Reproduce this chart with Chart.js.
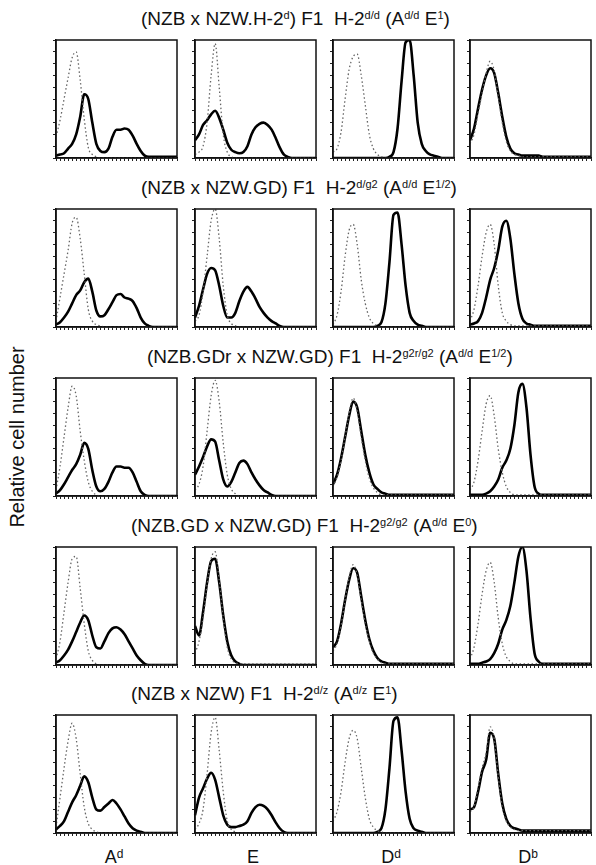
<!DOCTYPE html>
<html lang="en">
<head>
  <meta charset="UTF-8" />
  <title>Relative cell number - H-2 F1 mice</title>
  <style>
    body {
      margin: 0;
      background: #fff;
      font-family: "Liberation Sans", Arial, sans-serif;
      color: #111;
    }
    #fig {
      position: relative;
      width: 596px;
      height: 865px;
      overflow: hidden;
    }
    .row-title {
      position: absolute;
      font-size: 19px;
      white-space: pre;
      line-height: 1;
    }
    .row-title sup {
      font-size: 11px;
      vertical-align: 6px;
    }
    .xlab sup {
      font-size: 12px;
      vertical-align: 5px;
    }
    .panel {
      position: absolute;
    }
    .xlab {
      position: absolute;
      font-size: 18px;
      transform: translateX(-50%);
      line-height: 1;
    }
    #ylab {
      position: absolute;
      left: 17px;
      top: 437px;
      font-size: 20px;
      white-space: nowrap;
      transform: translate(-50%, -50%) rotate(-90deg);
    }
  </style>
</head>
<body>
  <div id="fig">
    <div id="ylab">Relative cell number</div>
  </div>

  <script src="https://cdn.jsdelivr.net/npm/chart.js"></script>
  <script>
    // fluorescence channels (log scale, no labels shown)
    const channels = ['0','1','2','3','4','5','6','7','8','9','10','11','12','13','14','15',
                      '16','17','18','19','20','21','22','23','24','25','26','27','28','29','30'];

    const rowTitles = [
      '(NZB x NZW.H-2<sup>d</sup>) F1  H-2<sup>d/d</sup> (A<sup>d/d</sup> E<sup>1</sup>)',
      '(NZB x NZW.GD) F1  H-2<sup>d/g2</sup> (A<sup>d/d</sup> E<sup>1/2</sup>)',
      '(NZB.GDr x NZW.GD) F1  H-2<sup>g2r/g2</sup> (A<sup>d/d</sup> E<sup>1/2</sup>)',
      '(NZB.GD x NZW.GD) F1  H-2<sup>g2/g2</sup> (A<sup>d/d</sup> E<sup>0</sup>)',
      '(NZB x NZW) F1  H-2<sup>d/z</sup> (A<sup>d/z</sup> E<sup>1</sup>)'
    ];
    const colLabels = ['A<sup>d</sup>', 'E', 'D<sup>d</sup>', 'D<sup>b</sup>'];

    // % of max, dotted = control, solid = stained
    // row 1
    const adCtrl1  = [18,32,50,68,85,90,66,33,9,3,1,0,0,0,0,0,0,0,0,0,0,0,0,0,0,0,0,0,0,0,0];
    const adStain1 = [2,3,4,8,12,20,35,54,50,30,12,6,5,8,18,24,24,25,24,19,12,6,2,1,1,1,1,1,1,1,1];
    const eCtrl1   = [3,5,10,30,70,97,60,20,5,1,0,0,0,0,0,0,0,0,0,0,0,0,0,0,0,0,0,0,0,0,0];
    const eStain1  = [15,20,28,32,37,40,34,24,13,7,5,4,5,10,20,26,29,30,28,24,17,9,3,1,0,0,0,0,0,0,0];
    const ddCtrl1  = [5,8,22,50,75,86,88,70,45,20,8,3,1,0,0,0,0,0,0,0,0,0,0,0,0,0,0,0,0,0,0];
    const ddStain1 = [0,0,0,0,0,0,0,0,0,0,0,0,0,0,1,5,25,65,98,100,70,30,12,6,3,2,1,0,0,0,0];
    const dbCtrl1  = [12,20,38,55,72,82,74,52,30,14,6,3,2,1,1,1,1,1,1,1,1,1,1,1,1,1,1,1,1,1,1];
    const dbStain1 = [15,25,42,58,70,76,72,55,35,18,8,4,3,2,2,2,2,2,1,1,1,1,1,1,1,1,1,1,1,1,1];
    // row 2
    const adCtrl2  = [5,25,45,65,88,93,75,45,15,5,2,1,0,0,0,0,0,0,0,0,0,0,0,0,0,0,0,0,0,0,0];
    const adStain2 = [2,4,8,13,20,27,31,38,41,30,14,9,10,15,21,27,28,25,24,22,16,8,3,1,0,0,0,0,0,0,0];
    const eCtrl2   = [5,10,30,60,90,100,75,35,10,3,1,0,0,0,0,0,0,0,0,0,0,0,0,0,0,0,0,0,0,0,0];
    const eStain2  = [8,18,32,45,50,48,35,18,8,8,12,22,30,34,30,24,17,12,8,5,3,1,0,0,0,0,0,0,0,0,0];
    const ddCtrl2  = [2,10,30,60,82,87,70,40,20,8,3,1,0,0,0,0,0,0,0,0,0,0,0,0,0,0,0,0,0,0,0];
    const ddStain2 = [0,0,0,0,0,0,0,0,0,0,0,1,4,20,55,95,97,70,35,12,5,2,1,0,0,0,0,0,0,0,0];
    const dbCtrl2  = [5,15,35,60,80,87,70,35,12,5,2,1,1,1,1,1,1,1,1,1,1,1,1,1,1,1,1,1,1,1,1];
    const dbStain2 = [2,3,5,12,25,40,50,65,85,90,75,45,20,7,3,2,1,1,1,1,1,1,1,1,1,1,1,1,1,1,1];
    // row 3
    const adCtrl3  = [5,25,50,75,93,85,55,30,12,4,1,0,0,0,0,0,0,0,0,0,0,0,0,0,0,0,0,0,0,0,0];
    const adStain3 = [2,5,10,16,22,27,35,45,40,22,8,4,6,12,20,25,25,24,24,20,12,4,1,0,0,0,0,0,0,0,0];
    const eCtrl3   = [5,10,25,55,85,98,80,45,18,6,2,0,0,0,0,0,0,0,0,0,0,0,0,0,0,0,0,0,0,0,0];
    const eStain3  = [18,25,33,42,48,46,30,14,8,12,20,28,30,27,20,14,9,5,3,1,0,0,0,0,0,0,0,0,0,0,0];
    const ddCtrl3  = [8,16,30,50,70,83,72,50,30,15,7,3,1,1,1,1,1,1,1,1,1,1,1,1,1,1,1,1,1,1,1];
    const ddStain3 = [10,18,32,50,68,80,75,55,35,20,10,6,3,2,1,1,1,1,1,1,1,1,1,1,1,1,1,1,1,1,1];
    const dbCtrl3  = [5,12,30,55,78,85,68,40,20,8,3,1,1,1,1,1,1,1,1,1,1,1,1,1,1,1,1,1,1,1,1];
    const dbStain3 = [1,1,1,1,2,4,8,14,24,30,40,60,88,95,75,35,8,2,1,1,1,1,1,1,1,1,1,1,1,1,1];
    // row 4
    const adCtrl4  = [5,20,45,70,90,92,65,35,12,4,1,0,0,0,0,0,0,0,0,0,0,0,0,0,0,0,0,0,0,0,0];
    const adStain4 = [2,4,8,13,20,28,36,42,38,25,15,14,20,27,31,32,30,26,20,14,8,4,1,0,0,0,0,0,0,0,0];
    const eCtrl4   = [10,20,40,68,90,96,72,40,15,5,2,1,1,1,1,1,1,1,1,1,1,1,1,1,1,1,1,1,1,1,1];
    const eStain4  = [33,25,45,70,88,90,70,42,20,8,3,1,0,0,0,0,0,0,0,0,0,0,0,0,0,0,0,0,0,0,0];
    const ddCtrl4  = [12,18,33,55,74,85,76,55,35,20,10,5,2,1,1,1,1,1,1,1,1,1,1,1,1,1,1,1,1,1,1];
    const ddStain4 = [15,20,35,55,72,82,78,58,38,22,12,6,3,2,1,1,1,1,1,1,1,1,1,1,1,1,1,1,1,1,1];
    const dbCtrl4  = [5,15,35,60,80,87,70,40,18,7,3,1,1,1,1,1,1,1,1,1,1,1,1,1,1,1,1,1,1,1,1];
    const dbStain4 = [1,1,1,2,3,5,10,18,30,38,50,70,92,100,80,40,10,3,1,1,1,1,1,1,1,1,1,1,1,1,1];
    // row 5
    const adCtrl5  = [5,30,55,78,93,80,50,22,8,3,1,0,0,0,0,0,0,0,0,0,0,0,0,0,0,0,0,0,0,0,0];
    const adStain5 = [3,6,10,18,26,32,40,48,43,30,20,19,22,25,28,25,20,14,8,4,2,1,0,0,0,0,0,0,0,0,0];
    const eCtrl5   = [3,8,20,50,85,98,70,35,10,3,1,0,0,0,0,0,0,0,0,0,0,0,0,0,0,0,0,0,0,0,0];
    const eStain5  = [15,30,38,46,51,45,30,15,7,5,5,6,7,10,17,22,24,23,20,15,9,4,1,0,0,0,0,0,0,0,0];
    const ddCtrl5  = [10,18,35,60,80,87,80,55,30,12,5,2,1,0,0,0,0,0,0,0,0,0,0,0,0,0,0,0,0,0,0];
    const ddStain5 = [0,0,0,0,0,0,0,0,0,0,0,1,4,20,55,95,98,70,35,12,4,2,1,0,0,0,0,0,0,0,0];
    const dbCtrl5  = [18,22,38,55,68,90,80,48,22,10,5,3,2,2,2,2,2,2,2,2,2,2,2,2,2,2,2,2,2,2,2];
    const dbStain5 = [20,22,35,52,62,85,80,50,25,12,6,4,3,2,2,2,2,2,2,2,2,2,2,2,2,2,2,2,2,2,2];

    const rows = [
      [[adCtrl1, adStain1], [eCtrl1, eStain1], [ddCtrl1, ddStain1], [dbCtrl1, dbStain1]],
      [[adCtrl2, adStain2], [eCtrl2, eStain2], [ddCtrl2, ddStain2], [dbCtrl2, dbStain2]],
      [[adCtrl3, adStain3], [eCtrl3, eStain3], [ddCtrl3, ddStain3], [dbCtrl3, dbStain3]],
      [[adCtrl4, adStain4], [eCtrl4, eStain4], [ddCtrl4, ddStain4], [dbCtrl4, dbStain4]],
      [[adCtrl5, adStain5], [eCtrl5, eStain5], [ddCtrl5, ddStain5], [dbCtrl5, dbStain5]]
    ];

    // panel boxes (px)
    const colLeft = [57, 196, 334, 471];
    const rowTop = [40, 209, 378, 547, 715];
    const boxW = 120, boxH = 117;
    const titleLeft = [141, 141, 147, 131, 131];

    const fig = document.getElementById('fig');

    // box around each plot area
    const frame = {
      id: 'frame',
      afterDraw(chart) {
        const a = chart.chartArea, c = chart.ctx;
        c.save();
        c.strokeStyle = '#111';
        c.lineWidth = 1.5;
        c.strokeRect(a.left, a.top, a.right - a.left, a.bottom - a.top);
        c.restore();
      }
    };

    rowTitles.forEach((t, r) => {
      const d = document.createElement('div');
      d.className = 'row-title';
      d.style.left = titleLeft[r] + 'px';
      d.style.top = (rowTop[r] - 31) + 'px';
      d.innerHTML = t;
      fig.appendChild(d);
    });

    colLabels.forEach((t, c) => {
      const d = document.createElement('div');
      d.className = 'xlab';
      d.style.left = (colLeft[c] + boxW / 2 - 3) + 'px';
      d.style.top = '848px';
      d.innerHTML = t;
      fig.appendChild(d);
    });

    rows.forEach((row, r) => {
      row.forEach((pair, c) => {
        const wrap = document.createElement('div');
        wrap.className = 'panel';
        wrap.style.left = (colLeft[c] - 4) + 'px';
        wrap.style.top = (rowTop[r] - 1) + 'px';
        wrap.style.width = (boxW + 5) + 'px';
        wrap.style.height = (boxH + 5) + 'px';
        const cv = document.createElement('canvas');
        wrap.appendChild(cv);
        fig.appendChild(wrap);

        new Chart(cv, {
          type: 'line',
          data: {
            labels: channels,
            datasets: [
              { data: pair[0], borderColor: '#666', borderWidth: 1.3, borderDash: [1.5, 2.5],
                pointRadius: 0, cubicInterpolationMode: 'monotone', fill: false },
              { data: pair[1], borderColor: '#000', borderWidth: 2.6,
                pointRadius: 0, cubicInterpolationMode: 'monotone', fill: false }
            ]
          },
          options: {
            responsive: true,
            maintainAspectRatio: false,
            animation: false,
            events: [],
            layout: { padding: { top: 1, right: 1, left: 0, bottom: 0 } },
            plugins: { legend: { display: false }, tooltip: { enabled: false } },
            scales: {
              x: {
                ticks: { display: false, autoSkip: false },
                grid: { drawOnChartArea: false, tickLength: 3, color: '#222', lineWidth: 1 },
                border: { display: true, color: '#111', width: 1.5 }
              },
              y: {
                min: 0, max: 100,
                ticks: { display: false, stepSize: 10 },
                grid: { drawOnChartArea: false, tickLength: 3, color: '#222', lineWidth: 1 },
                border: { display: true, color: '#111', width: 1.5 }
              }
            }
          },
          plugins: [frame]
        });
      });
    });
  </script>
</body>
</html>
